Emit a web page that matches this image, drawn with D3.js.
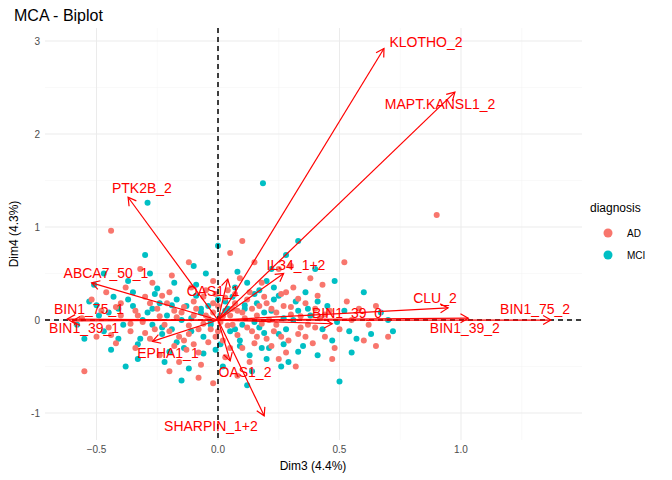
<!DOCTYPE html>
<html><head><meta charset="utf-8">
<script src="https://cdn.jsdelivr.net/npm/d3@7"></script>
<style>body{margin:0;background:#fff;font-family:"Liberation Sans",Arial,sans-serif}</style>
</head><body><svg id="chart" width="672" height="480"></svg>
<script>
// individus (Dim3, Dim4)
const adPoints = [
[-0.44,0.96],[0.90,1.13],[0.05,0.72],[-0.12,0.62],[0.30,0.58],[0.52,0.62],[0.43,0.38],[0.33,0.23],
[-0.52,0.22],[-0.48,0.10],[-0.45,-0.08],[-0.40,0.18],[-0.36,-0.12],[-0.33,0.05],[-0.30,0.25],[-0.28,-0.20],
[-0.25,0.12],[-0.22,-0.05],[-0.20,0.30],[-0.18,-0.28],[-0.15,0.08],[-0.12,-0.15],[-0.10,0.20],[-0.08,-0.35],
[-0.05,0.05],[-0.03,-0.10],[0.00,0.15],[0.02,-0.22],[0.04,0.32],[0.06,-0.05],[0.08,0.10],[0.10,-0.30],
[0.12,0.22],[0.14,-0.12],[0.16,0.05],[0.18,0.40],[0.20,-0.20],[0.22,0.12],[0.24,-0.05],[0.26,0.28],
[0.28,-0.35],[0.30,0.06],[0.33,-0.15],[0.36,0.18],[0.39,-0.25],[0.42,0.02],[0.46,0.10],[0.50,-0.10],
[0.55,0.00],[0.60,-0.22],[0.65,-0.28],[0.70,-0.18],[0.48,-0.30],[0.38,0.45],[-0.56,0.02],[-0.50,-0.18],
[-0.42,-0.25],[-0.38,0.35],[-0.34,-0.30],[-0.27,0.40],[-0.24,-0.38],[-0.19,0.48],[-0.16,-0.45],[-0.11,0.35],
[-0.07,-0.48],[-0.02,0.42],[0.03,-0.40],[0.09,0.45],[0.13,-0.45],[0.19,0.25],[0.25,-0.42],[0.31,0.35],
[0.37,-0.05],[0.41,0.26],[0.44,-0.18],[0.53,0.20],[0.58,0.12],[0.62,-0.05],[-0.46,0.30],[-0.31,-0.02],
[-0.21,0.18],[-0.14,-0.22],[-0.06,0.25],[0.01,-0.02],[0.07,0.18],[0.11,0.02],[0.15,-0.25],[0.21,0.00],
[0.27,0.15],[0.34,-0.08],[-0.08,-0.62],[-0.20,-0.55],[0.08,-0.60],[0.32,-0.50],[-0.55,-0.55],[-0.02,-0.68],
[0.10,0.85],[-0.32,0.55],[0.25,0.55],[0.15,0.62],[0.65,0.15],[0.47,-0.42],[-0.40,0.05],[-0.26,-0.10],
[-0.17,0.03],[-0.09,0.12],[-0.01,0.28],[0.05,0.05],[0.17,0.15],[0.23,-0.12],[0.29,-0.22],[0.40,0.12],
// noyau dense
[-0.04,0.02],[-0.02,0.08],[0.02,0.04],[0.04,-0.06],[-0.06,-0.04],[0.00,-0.12],[0.06,0.12],[-0.10,0.05],
[0.10,0.08],[-0.08,-0.10],[0.12,-0.08],[-0.14,0.14],[0.14,0.12],[-0.12,-0.06],[0.08,-0.16],[-0.02,0.18],
[0.18,-0.04],[-0.18,0.10],[0.20,0.18],[-0.20,-0.12],[0.16,-0.18],[-0.16,-0.18],[0.24,0.08],[-0.24,0.04],
[0.03,0.24],[-0.04,-0.24],[0.26,-0.18],[-0.28,0.18],[0.30,0.14],[-0.30,-0.14],[0.34,0.04],[-0.34,0.10],
[0.36,-0.18],[-0.36,-0.04],[0.40,-0.08],[-0.42,0.14],[0.44,0.06],[-0.44,-0.16],[0.05,-0.30],[-0.05,0.32],
[0.13,0.30],[-0.13,-0.32],[0.22,-0.28],[-0.23,0.26],[0.28,0.30],[-0.10,-0.26],[0.07,0.28],[-0.01,-0.18]
];
const mciPoints = [
[-0.29,1.26],[0.185,1.47],[0.50,-0.66],[0.33,0.85],[0.00,0.80],[-0.30,0.70],[0.48,0.42],[0.22,0.55],
[-0.53,0.20],[-0.49,0.05],[-0.47,-0.12],[-0.43,0.25],[-0.39,-0.05],[-0.35,0.15],[-0.32,-0.20],[-0.29,0.08],
[-0.26,0.28],[-0.23,-0.15],[-0.21,0.05],[-0.17,0.22],[-0.14,-0.30],[-0.11,0.02],[-0.09,0.38],[-0.06,-0.18],
[-0.04,0.15],[-0.01,-0.32],[0.01,0.05],[0.03,0.20],[0.05,-0.12],[0.07,0.35],[0.09,-0.22],[0.11,0.12],
[0.13,-0.38],[0.15,0.28],[0.17,-0.08],[0.19,0.08],[0.21,-0.30],[0.23,0.35],[0.25,-0.15],[0.27,0.02],
[0.29,-0.45],[0.32,0.20],[0.35,-0.28],[0.38,0.05],[0.41,-0.38],[0.45,0.15],[0.49,-0.02],[0.52,0.10],
[0.57,-0.20],[0.63,-0.15],[0.67,0.08],[0.55,-0.35],[-0.55,-0.20],[-0.51,0.38],[-0.44,-0.32],[-0.37,0.42],
[-0.33,-0.42],[-0.28,0.50],[-0.22,-0.45],[-0.18,0.40],[-0.12,-0.52],[-0.05,0.50],[0.02,-0.50],[0.08,0.52],
[0.14,-0.55],[0.20,0.42],[0.26,-0.50],[0.36,0.30],[0.43,-0.10],[0.60,0.30],[-0.41,0.12],[-0.27,-0.05],
[-0.19,-0.10],[-0.13,0.15],[-0.07,0.08],[-0.03,-0.05],[0.04,0.12],[0.10,-0.05],[0.16,0.18],[0.22,0.10],
[0.28,-0.10],[0.33,0.10],[-0.58,-0.05],[-0.47,0.50],[-0.38,-0.50],[0.12,-0.70],[-0.15,-0.65],[0.40,0.55],
[0.70,0.00],[0.72,-0.12],[0.28,0.70],[-0.10,0.58],[0.18,-0.30],[-0.24,0.18],[0.06,0.25],[-0.35,0.30],
// noyau dense
[-0.03,-0.02],[0.03,0.10],[-0.07,0.12],[0.07,-0.10],[-0.11,-0.12],[0.11,0.16],[-0.15,0.00],[0.15,-0.02],
[-0.19,0.16],[0.19,-0.14],[-0.23,-0.08],[0.23,0.22],[-0.27,0.12],[0.27,-0.26],[-0.31,0.00],[0.31,0.00],
[-0.37,0.22],[0.37,0.12],[-0.41,-0.20],[0.41,0.20],[-0.45,0.08],[0.47,-0.22],[0.00,0.22],[0.01,-0.26],
[-0.09,0.26],[0.09,-0.28],[-0.17,-0.24],[0.17,0.32],[-0.25,0.34],[0.25,0.26],[-0.33,-0.26],[0.33,-0.34],
[-0.50,0.16],[0.54,-0.12],[-0.06,-0.36],[0.12,0.40],[-0.20,-0.34],[0.20,-0.42]
];
// variables : extrémités des flèches
const varNames = ["KLOTHO_2","MAPT.KANSL1_2","PTK2B_2","ABCA7_50_1","BIN1_75_1","BIN1_39_1","EPHA1_1","OAS1_1","OAS1_2","SHARPIN_1+2","IL34_1+2","CLU_2","BIN1_39_0","BIN1_39_2","BIN1_75_2"];
const varDim3 = [0.683,0.975,-0.37,-0.52,-0.62,-0.60,-0.27,0.04,0.05,0.19,0.27,0.947,0.47,1.03,1.37];
const varDim4 = [2.92,2.45,1.32,0.40,0.01,-0.01,-0.23,0.44,-0.44,-1.03,0.50,0.13,-0.04,0.02,0.00];
const labelDim3 = [0.856,0.914,-0.313,-0.461,-0.531,-0.551,-0.206,-0.02,0.111,-0.029,0.321,0.893,0.531,1.016,1.305];
const labelDim4 = [2.99,2.32,1.42,0.505,0.118,-0.086,-0.355,0.312,-0.559,-1.14,0.591,0.237,0.075,-0.086,0.118];
const xTicks = [-0.5,0,0.5,1];
const yTicks = [-1,0,1,2,3];
const groups = ["AD","MCI"];
const groupColors = ["#F8766D","#00BFC4"];

const svg = d3.select("#chart");
const x = d3.scaleLinear().domain([-0.712,1.498]).range([45,582]);
const y = d3.scaleLinear().domain([-1.29,3.14]).range([440,28]);

// grille
const g = svg.append("g");
const xMinor = d3.range(-0.75,1.6,0.5).filter(v => v > -0.712 && v < 1.498);
const yMinor = d3.range(-1.5,3.6,1).filter(v => v > -1.29 && v < 3.14);
g.selectAll(".xm").data(xMinor).enter().append("line").attr("x1",d=>x(d)).attr("x2",d=>x(d)).attr("y1",28).attr("y2",440).attr("stroke","#f3f3f3").attr("stroke-width",0.5);
g.selectAll(".ym").data(yMinor).enter().append("line").attr("y1",d=>y(d)).attr("y2",d=>y(d)).attr("x1",45).attr("x2",582).attr("stroke","#f3f3f3").attr("stroke-width",0.5);
g.selectAll(".xg").data(xTicks).enter().append("line").attr("x1",d=>x(d)).attr("x2",d=>x(d)).attr("y1",28).attr("y2",440).attr("stroke","#ebebeb").attr("stroke-width",1);
g.selectAll(".yg").data(yTicks).enter().append("line").attr("y1",d=>y(d)).attr("y2",d=>y(d)).attr("x1",45).attr("x2",582).attr("stroke","#ebebeb").attr("stroke-width",1);

// points
const pts = svg.append("g");
pts.selectAll(".mci").data(mciPoints).enter().append("circle").attr("cx",d=>x(d[0])).attr("cy",d=>y(d[1])).attr("r",3).attr("fill",groupColors[1]);
pts.selectAll(".ad").data(adPoints).enter().append("circle").attr("cx",d=>x(d[0])).attr("cy",d=>y(d[1])).attr("r",3).attr("fill",groupColors[0]);

// lignes de référence
svg.append("line").attr("x1",x(0)).attr("x2",x(0)).attr("y1",28).attr("y2",440).attr("stroke","#000").attr("stroke-width",1.5).attr("stroke-dasharray","5,4");
svg.append("line").attr("y1",y(0)).attr("y2",y(0)).attr("x1",45).attr("x2",582).attr("stroke","#000").attr("stroke-width",1.5).attr("stroke-dasharray","5,4");

// flèches
const arrows = svg.append("g").attr("stroke","red").attr("stroke-width",1.2).attr("fill","none");
varNames.forEach((n,i) => {
  const x0 = x(0), y0 = y(0), x1 = x(varDim3[i]), y1 = y(varDim4[i]);
  arrows.append("line").attr("x1",x0).attr("y1",y0).attr("x2",x1).attr("y2",y1);
  const a = Math.atan2(y1-y0, x1-x0), L = 9, s = Math.PI/6;
  arrows.append("path").attr("d",`M${x1-L*Math.cos(a-s)},${y1-L*Math.sin(a-s)}L${x1},${y1}L${x1-L*Math.cos(a+s)},${y1-L*Math.sin(a+s)}`);
});
svg.append("g").selectAll("text").data(varNames).enter().append("text")
  .attr("x",(d,i)=>x(labelDim3[i])).attr("y",(d,i)=>y(labelDim4[i])).attr("dy","0.35em")
  .attr("text-anchor","middle").attr("fill","red").attr("font-size",14).text(d=>d);

// axes
svg.append("g").selectAll("text").data(xTicks).enter().append("text")
  .attr("x",d=>x(d)).attr("y",453).attr("text-anchor","middle").attr("font-size",10).attr("fill","#4d4d4d")
  .text(d => d === 0 ? "0.0" : d3.format(".1f")(d));
svg.append("g").selectAll("text").data(yTicks).enter().append("text")
  .attr("x",40).attr("y",d=>y(d)).attr("dy","0.35em").attr("text-anchor","end").attr("font-size",10).attr("fill","#4d4d4d")
  .text(d => d);
svg.append("text").attr("x",313).attr("y",470).attr("text-anchor","middle").attr("font-size",12).text("Dim3 (4.4%)");
svg.append("text").attr("transform","translate(18,234) rotate(-90)").attr("text-anchor","middle").attr("font-size",12).text("Dim4 (4.3%)");
svg.append("text").attr("x",14).attr("y",21).attr("font-size",16).text("MCA - Biplot");

// légende
svg.append("text").attr("x",590).attr("y",212).attr("font-size",12).text("diagnosis");
groups.forEach((gr,i) => {
  svg.append("circle").attr("cx",608).attr("cy",233+i*22).attr("r",4.5).attr("fill",groupColors[i]);
  svg.append("text").attr("x",627).attr("y",233+i*22).attr("dy","0.35em").attr("font-size",10).text(gr);
});
</script></body></html>
